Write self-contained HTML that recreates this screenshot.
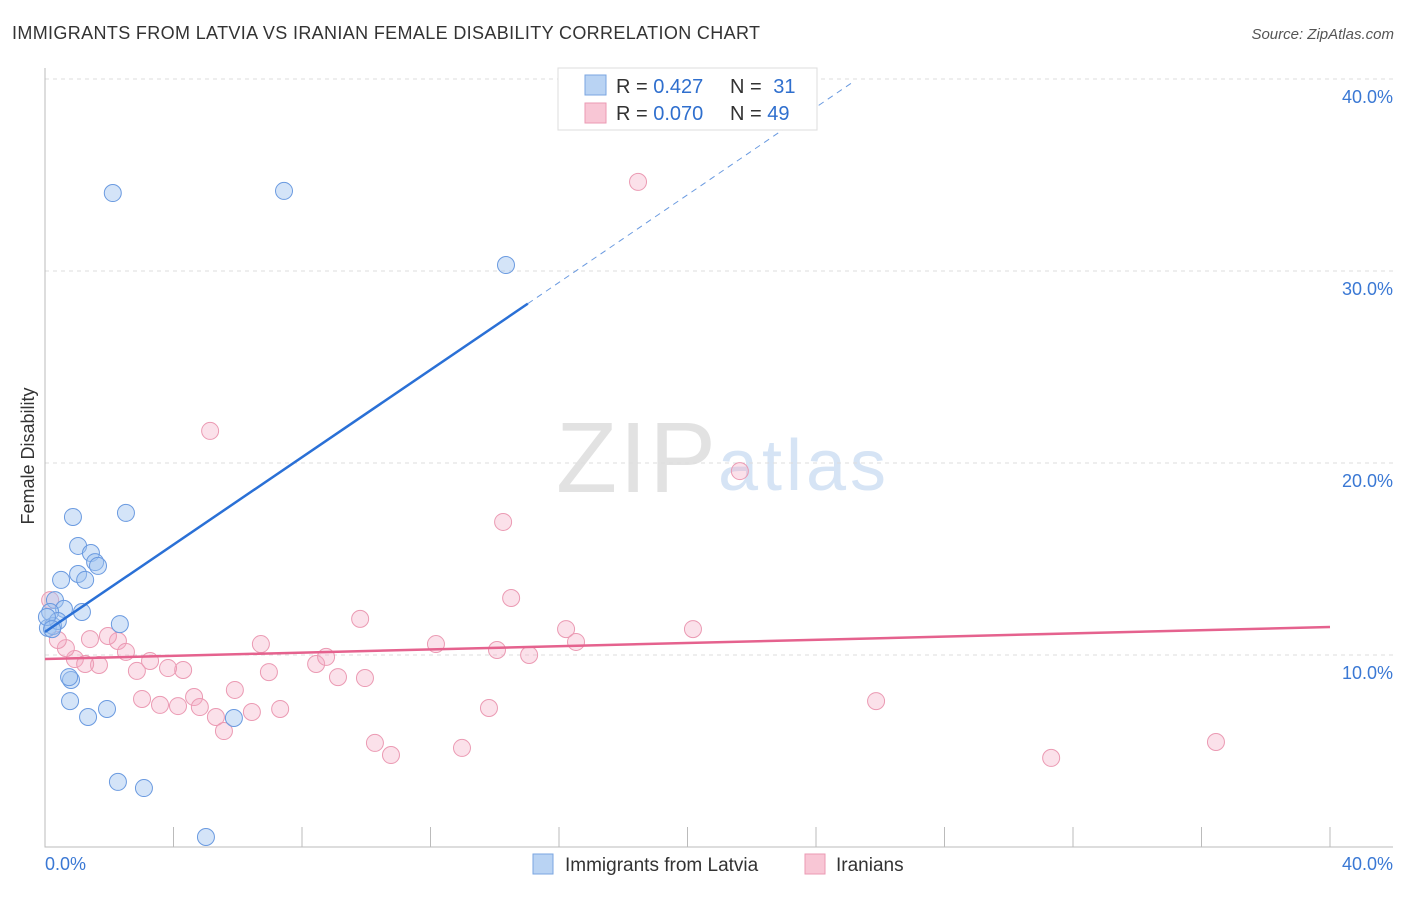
<!DOCTYPE html>
<html><head><meta charset="utf-8"><style>
body{margin:0;background:#fff;font-family:"Liberation Sans",sans-serif;}
svg text{font-family:"Liberation Sans",sans-serif;}
</style></head><body>
<svg id="chart" width="1406" height="892" xmlns="http://www.w3.org/2000/svg">
<text x="12" y="39" font-size="18" fill="#333" textLength="748">IMMIGRANTS FROM LATVIA VS IRANIAN FEMALE DISABILITY CORRELATION CHART</text>
<text x="1394" y="39" font-size="15" fill="#555" font-style="italic" text-anchor="end">Source: ZipAtlas.com</text>
<text x="716" y="492" font-size="100" fill="#e2e2e2" font-family="Liberation Serif" text-anchor="end" textLength="160">ZIP</text>
<text x="718" y="490" font-size="72" fill="#d6e4f5" textLength="168">atlas</text>
<g id="grid"></g>
<g id="axes"></g>
<g id="marks"></g>
<text transform="translate(34,456) rotate(-90)" font-size="18" fill="#333" text-anchor="middle">Female Disability</text>
<g>
<rect x="558" y="68" width="259" height="62" fill="#fff" stroke="#ddd"/>
<rect x="585" y="75" width="21" height="20" fill="#b9d3f3" stroke="#7aa6e0"/>
<rect x="585" y="103" width="21" height="20" fill="#f8c6d5" stroke="#eb9ab3"/>
<text x="616" y="93" font-size="20" fill="#333">R = <tspan fill="#2f6fce">0.427</tspan></text>
<text x="730" y="93" font-size="20" fill="#333">N = <tspan fill="#2f6fce" dx="6">31</tspan></text>
<text x="616" y="120" font-size="20" fill="#333">R = <tspan fill="#2f6fce">0.070</tspan></text>
<text x="730" y="120" font-size="20" fill="#333">N = <tspan fill="#2f6fce">49</tspan></text>
</g>
<g>
<rect x="533" y="854" width="20" height="20" fill="#b9d3f3" stroke="#7aa6e0"/>
<text x="565" y="871" font-size="19" fill="#333">Immigrants from Latvia</text>
<rect x="805" y="854" width="20" height="20" fill="#f8c6d5" stroke="#eb9ab3"/>
<text x="836" y="871" font-size="19" fill="#333">Iranians</text>
</g>
</svg>
<script>
const yTicks=[10,20,30,40];
const xTickLabels=["0.0%","40.0%"];
const latviaX=[2.11,7.44,14.35,0.87,2.52,1.03,1.43,1.56,1.65,1.03,1.25,0.50,0.31,0.59,1.15,2.33,0.16,0.09,0.25,0.40,0.81,0.75,0.78,1.93,1.34,5.88,2.27,3.08,5.01,0.06,0.22];
const latviaY=[34.06,34.17,30.31,17.19,17.40,15.68,15.31,14.84,14.64,14.22,13.91,13.91,12.86,12.40,12.24,11.61,12.24,11.41,11.51,11.77,8.70,8.85,7.60,7.19,6.77,6.72,3.39,3.07,0.52,11.98,11.35];
const iranX=[18.46,5.14,21.63,14.26,14.51,9.81,16.22,20.17,16.53,12.17,14.07,15.07,6.72,1.40,2.27,1.96,2.52,3.27,4.30,3.83,0.93,1.68,1.25,0.65,0.40,0.16,2.86,6.97,8.44,8.75,9.12,9.96,3.02,3.58,4.14,4.64,4.82,5.91,7.32,6.44,5.32,5.57,13.82,25.87,10.27,10.77,12.98,31.32,36.45];
const iranY=[34.64,21.67,19.58,16.93,12.97,11.88,11.35,11.35,10.68,10.57,10.26,10.00,10.57,10.83,10.73,10.99,10.16,9.69,9.22,9.32,9.79,9.48,9.53,10.36,10.78,12.86,9.17,9.11,9.53,9.90,8.85,8.80,7.71,7.40,7.34,7.81,7.29,8.18,7.19,7.03,6.77,6.04,7.24,7.60,5.42,4.79,5.16,4.64,5.47];
const NS='http://www.w3.org/2000/svg';
const X=v=>45+v*32.125, Y=v=>847-v*19.2;
function mk(tag,attrs,parent){const e=document.createElementNS(NS,tag);for(const k in attrs)e.setAttribute(k,attrs[k]);document.getElementById(parent).appendChild(e);return e;}
yTicks.forEach(t=>{
 const g=mk('line',{x1:45,x2:1393,y1:Y(t),y2:Y(t),stroke:'#ddd','stroke-dasharray':'4,4'},'grid');
 
 
 const l=mk('text',{x:1393,y:Y(t)+24,'font-size':18,fill:'#3a78d4','text-anchor':'end'},'axes');
 l.textContent=t.toFixed(1)+'%';
 
 
});
const ax=mk('path',{d:'M45,68V847H1393',fill:'none',stroke:'#bbb'},'axes');


for(let i=1;i<=10;i++){const t=mk('line',{x1:X(i*4),x2:X(i*4),y1:827,y2:847,stroke:'#bbb'},'axes');
 
 }
xTickLabels.forEach((s,i)=>{const l=mk('text',{x:i?1393:45,y:870,'font-size':18,fill:'#3a78d4','text-anchor':i?'end':'start'},'axes');l.textContent=s;
 
 });
iranX.forEach((x,i)=>{const c=mk('circle',{cx:X(x),cy:Y(iranY[i]),r:8.5,fill:'rgba(244,170,195,0.35)',stroke:'#eb9ab3','stroke-width':1},'marks');
 
 });
latviaX.forEach((x,i)=>{const c=mk('circle',{cx:X(x),cy:Y(latviaY[i]),r:8.5,fill:'rgba(160,195,240,0.45)',stroke:'#6a9ae0','stroke-width':1},'marks');
 
 });
const b1=mk('line',{x1:X(0),y1:Y(11.2),x2:X(15.03),y2:Y(28.3),stroke:'#2a70d6','stroke-width':2.5},'marks');


const b2=mk('line',{x1:X(15.03),y1:Y(28.3),x2:X(25.2),y2:Y(39.9),stroke:'#6a9ae0','stroke-width':1,'stroke-dasharray':'6,5'},'marks');


const p1=mk('line',{x1:X(0),y1:Y(9.79),x2:X(40),y2:Y(11.46),stroke:'#e5628e','stroke-width':2.5},'marks');


</script>
</body></html>
